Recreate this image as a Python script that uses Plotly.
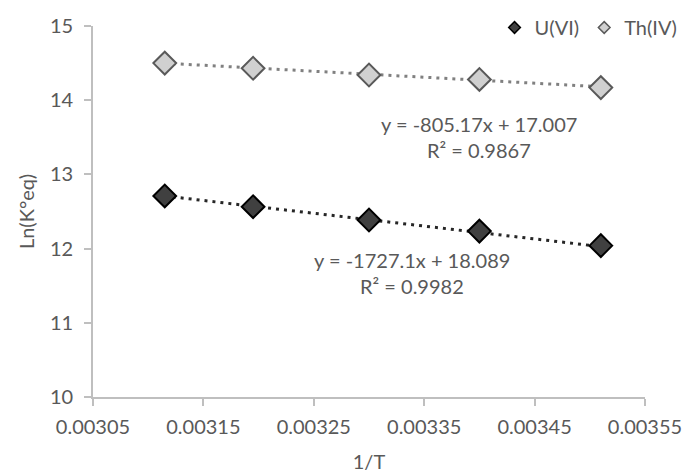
import numpy as np
import plotly.graph_objects as go

# 1/T values (K^-1) and ln(K°eq) for each ion
inv_t = [0.003115, 0.003195, 0.00330, 0.00340, 0.00351]
ln_k_u = [12.71, 12.565, 12.385, 12.236, 12.04]
ln_k_th = [14.50, 14.43, 14.34, 14.28, 14.17]

# linear fit coefficients (slope, intercept) and R² shown on the chart
fit_u = (-1727.1, 18.089, 0.9982)
fit_th = (-805.17, 17.007, 0.9867)

x_ticks = [0.00305, 0.00315, 0.00325, 0.00335, 0.00345, 0.00355]
y_ticks = [10, 11, 12, 13, 14, 15]

FONT = "Lato"
TXT = "#595959"
AXIS = "#bfbfbf"

fig = go.Figure()


def trend(fit):
    xs = np.array([inv_t[0], inv_t[-1]])
    return xs, fit[0] * xs + fit[1]


# dotted trend lines
for fit, col in ((fit_u, "#262626"), (fit_th, "#808080")):
    xs, ys = trend(fit)
    fig.add_trace(go.Scatter(
        x=xs, y=ys, mode="lines", showlegend=False, hoverinfo="skip",
        line=dict(color=col, width=3, dash="3px,5px"),
    ))

# data points
fig.add_trace(go.Scatter(
    x=inv_t, y=ln_k_u, mode="markers", showlegend=False,
    marker=dict(symbol="diamond", size=17.5, color="#404040",
                line=dict(color="#000000", width=2)),
))
fig.add_trace(go.Scatter(
    x=inv_t, y=ln_k_th, mode="markers", showlegend=False,
    marker=dict(symbol="diamond", size=17.5, color="#d0d0d0",
                line=dict(color="#595959", width=2)),
))

# legend entries with smaller symbols
fig.add_trace(go.Scatter(
    x=[None], y=[None], mode="markers", name="U(VI)",
    marker=dict(symbol="diamond", size=9, color="#404040",
                line=dict(color="#000000", width=1.5)),
))
fig.add_trace(go.Scatter(
    x=[None], y=[None], mode="markers", name="Th(IV)",
    marker=dict(symbol="diamond", size=9, color="#d0d0d0",
                line=dict(color="#595959", width=1.5)),
))


def eq_text(fit):
    return f"y = {fit[0]}x + {fit[1]:.3f}", f"R² = {fit[2]}"


for fit, xc, y1, y2 in ((fit_th, 479, 124, 150), (fit_u, 411.5, 260, 286)):
    l1, l2 = eq_text(fit)
    for txt, yy in ((l1, y1), (l2, y2)):
        fig.add_annotation(
            text=txt, xref="paper", yref="paper",
            x=(xc - 93) / (645 - 93), y=(397 - yy) / (397 - 26),
            showarrow=False, xanchor="center", yanchor="middle",
            font=dict(family=FONT, size=20, color=TXT),
        )

axis_common = dict(
    showgrid=False, zeroline=False, showline=True, linecolor=AXIS,
    linewidth=1.8, ticks="outside", ticklen=7, tickcolor=AXIS, tickwidth=1.8,
    tickfont=dict(family=FONT, size=20, color=TXT),
    title_font=dict(family=FONT, size=20, color=TXT),
    automargin=False,
)

fig.update_layout(
    width=686, height=475,
    margin=dict(l=93, r=41, t=26, b=78, autoexpand=False),
    paper_bgcolor="white", plot_bgcolor="white",
    xaxis=dict(range=[0.00305, 0.00355], tickvals=x_ticks,
               ticktext=[f"{v:.5f}" for v in x_ticks],
               ticklabelstandoff=4,
               title=dict(text="1/T", standoff=18), **axis_common),
    yaxis=dict(range=[10, 15], tickvals=y_ticks,
               ticktext=[str(v) for v in y_ticks],
               ticklabelstandoff=7,
               title=dict(text="Ln(K°eq)", standoff=10), **axis_common),
    legend=dict(orientation="h", x=1.068, xanchor="right", y=0.996,
                yanchor="middle", yref="paper",
                font=dict(family=FONT, size=20, color=TXT),
                bgcolor="rgba(0,0,0,0)", itemwidth=30),
)

fig.write_html("out.html")
